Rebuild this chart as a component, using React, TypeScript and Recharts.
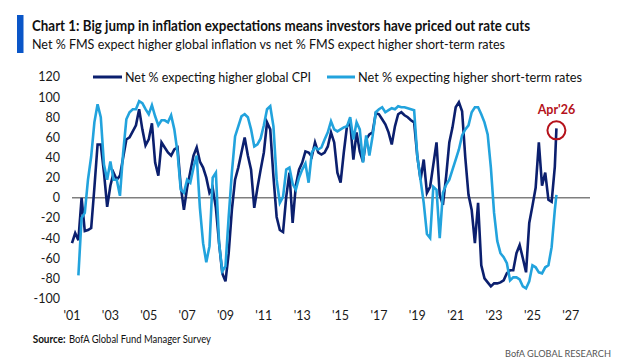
import React from 'react';
import { LineChart, Line, XAxis, YAxis, ReferenceLine, ReferenceDot, Legend } from 'recharts';

// Bi-monthly readings (Jan, Mar, May, Jul, Sep, Nov) from 2001, last reading Apr'26
const START_YEAR = 2001;
const STEPS_PER_YEAR = 6;
const LAST_DATE = 2026.25;

// Net % expecting higher global CPI
const cpiValues: (number | null)[] = [
  -45, -35, -42, 0, -33, -32, // 2001
  -30, 10, 53, 53, 25, -9, // 2002
  12, 25, 18, 22, 40, 58, // 2003
  60, 66, 72, 88, 68, 52, // 2004
  58, 74, 35, 22, 55, 50, // 2005
  45, 42, 48, 50, 12, -12, // 2006
  10, 26, 42, 50, 36, 30, // 2007
  20, 5, 10, -10, -45, -75, // 2008
  -83, -55, -12, 18, 30, 45, // 2009
  60, 42, 28, -10, 10, 28, // 2010
  45, 75, 68, 21, -19, -32, // 2011
  -34, 1, 25, -25, 12, 28, // 2012
  35, 46, 45, 41, 55, 45, // 2013
  43, 45, 51, 65, 55, 25, // 2014
  15, 45, 71, 75, 38, 65, // 2015
  46, 36, 58, 63, 65, 84, // 2016
  83, 78, 73, 65, 53, 71, // 2017
  83, 85, 82, 80, 77, 75, // 2018
  41, 18, 38, 5, 11, 33, // 2019
  55, 3, -7, 21, 55, 70, // 2020
  90, 95, 86, 40, 3, -12, // 2021
  -45, -5, -67, -80, -84, -88, // 2022
  -85, -85, -84, -82, -75, -72, // 2023
  -72, -55, -47, -60, -74, -25, // 2024
  -8, 10, 55, 12, 25, -2, // 2025
  -4, 31, // 2026 Jan, Mar
  69, // Apr'26
];

// Net % expecting higher short-term rates
const rateValues: (number | null)[] = [
  null, null, -77, -20, -15, 18, // 2001
  41, 75, 93, 80, 33, 18, // 2002
  36, 18, 18, 2, 45, 78, // 2003
  85, 88, 88, 96, 94, 88, // 2004
  83, 92, 81, 72, 77, 77, // 2005
  75, 82, 68, 45, 8, 5, // 2006
  18, 15, 30, 42, -10, -45, // 2007
  -64, -48, 20, 25, -45, -73, // 2008
  -68, -19, 25, 61, 71, 81, // 2009
  83, 80, 68, 51, 53, 59, // 2010
  72, 88, 91, 71, 18, -5, // 2011
  1, 28, 30, 14, 8, 20, // 2012
  28, 34, 15, 45, 50, 48, // 2013
  50, 58, 65, 76, 68, 66, // 2014
  68, 70, 71, 80, 58, 75, // 2015
  68, 35, 62, 42, 61, 85, // 2016
  88, 90, 85, 87, 89, 88, // 2017
  91, 90, 90, 89, 88, 87, // 2018
  41, 18, -5, -36, -40, 11, // 2019
  8, -40, 5, 13, 18, 28, // 2020
  38, 48, 62, 68, 72, 85, // 2021
  90, 90, 83, 75, 63, 30, // 2022
  -15, -43, -55, -59, -65, -82, // 2023
  -79, -79, -81, -88, -90, -83, // 2024
  -67, -69, -74, -75, -69, -67, // 2025
  -49, -12, // 2026 Jan, Mar
  3, // Apr'26
];

const xTicks = [2001, 2003, 2005, 2007, 2009, 2011, 2013, 2015, 2017, 2019, 2021, 2023, 2025, 2027];
const yTicks = [-100, -80, -60, -40, -20, 0, 20, 40, 60, 80, 100, 120];

const seriesNames = ['Net % expecting higher global CPI', 'Net % expecting higher short-term rates'];
const annotationLabel = "Apr'26";
const annotationValue = 67;

const DARK = '#0b1f6e';
const LIGHT = '#22a3dd';
const RED = '#b5121b';
const FONT = 'Lato, "Open Sans", sans-serif';

const dates = cpiValues.map((_, i) =>
  i === cpiValues.length - 1 ? LAST_DATE : START_YEAR + i / STEPS_PER_YEAR
);
const data = dates.map((d, i) => ({ date: d, cpi: cpiValues[i], rates: rateValues[i] }));

const renderLegend = () => (
  <svg width={510} height={18} style={{ display: 'block' }}>
    <line x1={3} x2={32} y1={9} y2={9} stroke={DARK} strokeWidth={3} />
    <text x={35} y={13.5} fontFamily={FONT} fontSize={13} fill="#111" textLength={186} lengthAdjust="spacingAndGlyphs">
      {seriesNames[0]}
    </text>
    <line x1={237} x2={265} y1={9} y2={9} stroke={LIGHT} strokeWidth={3} />
    <text x={268} y={13.5} fontFamily={FONT} fontSize={13} fill="#111" textLength={224} lengthAdjust="spacingAndGlyphs">
      {seriesNames[1]}
    </text>
  </svg>
);

export default function App() {
  return (
    <div style={{ position: 'absolute', left: 0, top: 0, width: 624, height: 364, background: '#fff', overflow: 'hidden' }}>
      <LineChart
        width={624}
        height={364}
        data={data}
        margin={{ top: 77, right: 34, bottom: 35.5, left: 0 }}
      >
        <XAxis
          dataKey="date"
          type="number"
          domain={[2001, 2028]}
          ticks={xTicks}
          tickFormatter={(v: number) => "'" + String(v).slice(2)}
          axisLine={false}
          tickLine={false}
          tickSize={0}
          tickMargin={13}
          height={30}
          tick={{ fontFamily: FONT, fontSize: 12.5, fill: '#1a1a1a' }}
          interval={0}
        />
        <YAxis
          type="number"
          domain={[-100, 120]}
          ticks={yTicks}
          axisLine={false}
          tickLine={false}
          tickSize={0}
          tickMargin={12}
          width={72}
          tick={{ fontFamily: FONT, fontSize: 12.5, fill: '#1a1a1a' }}
          interval={0}
        />
        <ReferenceLine y={0} stroke="#7f7f7f" strokeWidth={1.5} />
        <Legend
          verticalAlign="middle"
          layout="horizontal"
          wrapperStyle={{ top: 68, left: 90, width: 510, height: 18 }}
          content={renderLegend}
        />
        <Line
          dataKey="cpi"
          name={seriesNames[0]}
          type="linear"
          stroke={DARK}
          strokeWidth={2.6}
          dot={false}
          isAnimationActive={false}
        />
        <Line
          dataKey="rates"
          name={seriesNames[1]}
          type="linear"
          stroke={LIGHT}
          strokeWidth={2.6}
          dot={false}
          isAnimationActive={false}
        />
        <ReferenceDot
          x={LAST_DATE}
          y={annotationValue}
          r={9}
          fill="none"
          stroke={RED}
          strokeWidth={2}
          label={{ value: annotationLabel, position: 'top', offset: 7, fill: RED, fontSize: 12.5, fontWeight: 700, fontFamily: FONT }}
        />
      </LineChart>
      <svg width={624} height={364} style={{ position: 'absolute', left: 0, top: 0, pointerEvents: 'none' }}>
        <rect x={17} y={15} width={6.5} height={38} fill="#0a56c8" />
        <text x={32} y={31} fontFamily={FONT} fontWeight={700} fontSize={14.5} fill="#111" textLength={498} lengthAdjust="spacingAndGlyphs">
          Chart 1: Big jump in inflation expectations means investors have priced out rate cuts
        </text>
        <text x={32} y={48.5} fontFamily={FONT} fontSize={13.5} fill="#111" textLength={473} lengthAdjust="spacingAndGlyphs">
          Net % FMS expect higher global inflation vs net % FMS expect higher short-term rates
        </text>
        <text x={32.7} y={343.3} fontFamily={FONT} fontWeight={700} fontSize={10.5} fill="#111" textLength={33} lengthAdjust="spacingAndGlyphs">
          Source:
        </text>
        <text x={69} y={343.3} fontFamily={FONT} fontSize={10.5} fill="#111" textLength={142} lengthAdjust="spacingAndGlyphs">
          BofA Global Fund Manager Survey
        </text>
        <text x={505} y={356.5} fontFamily={FONT} fontSize={9.5} fill="#555" textLength={106} lengthAdjust="spacingAndGlyphs">
          BofA GLOBAL RESEARCH
        </text>
      </svg>
    </div>
  );
}
